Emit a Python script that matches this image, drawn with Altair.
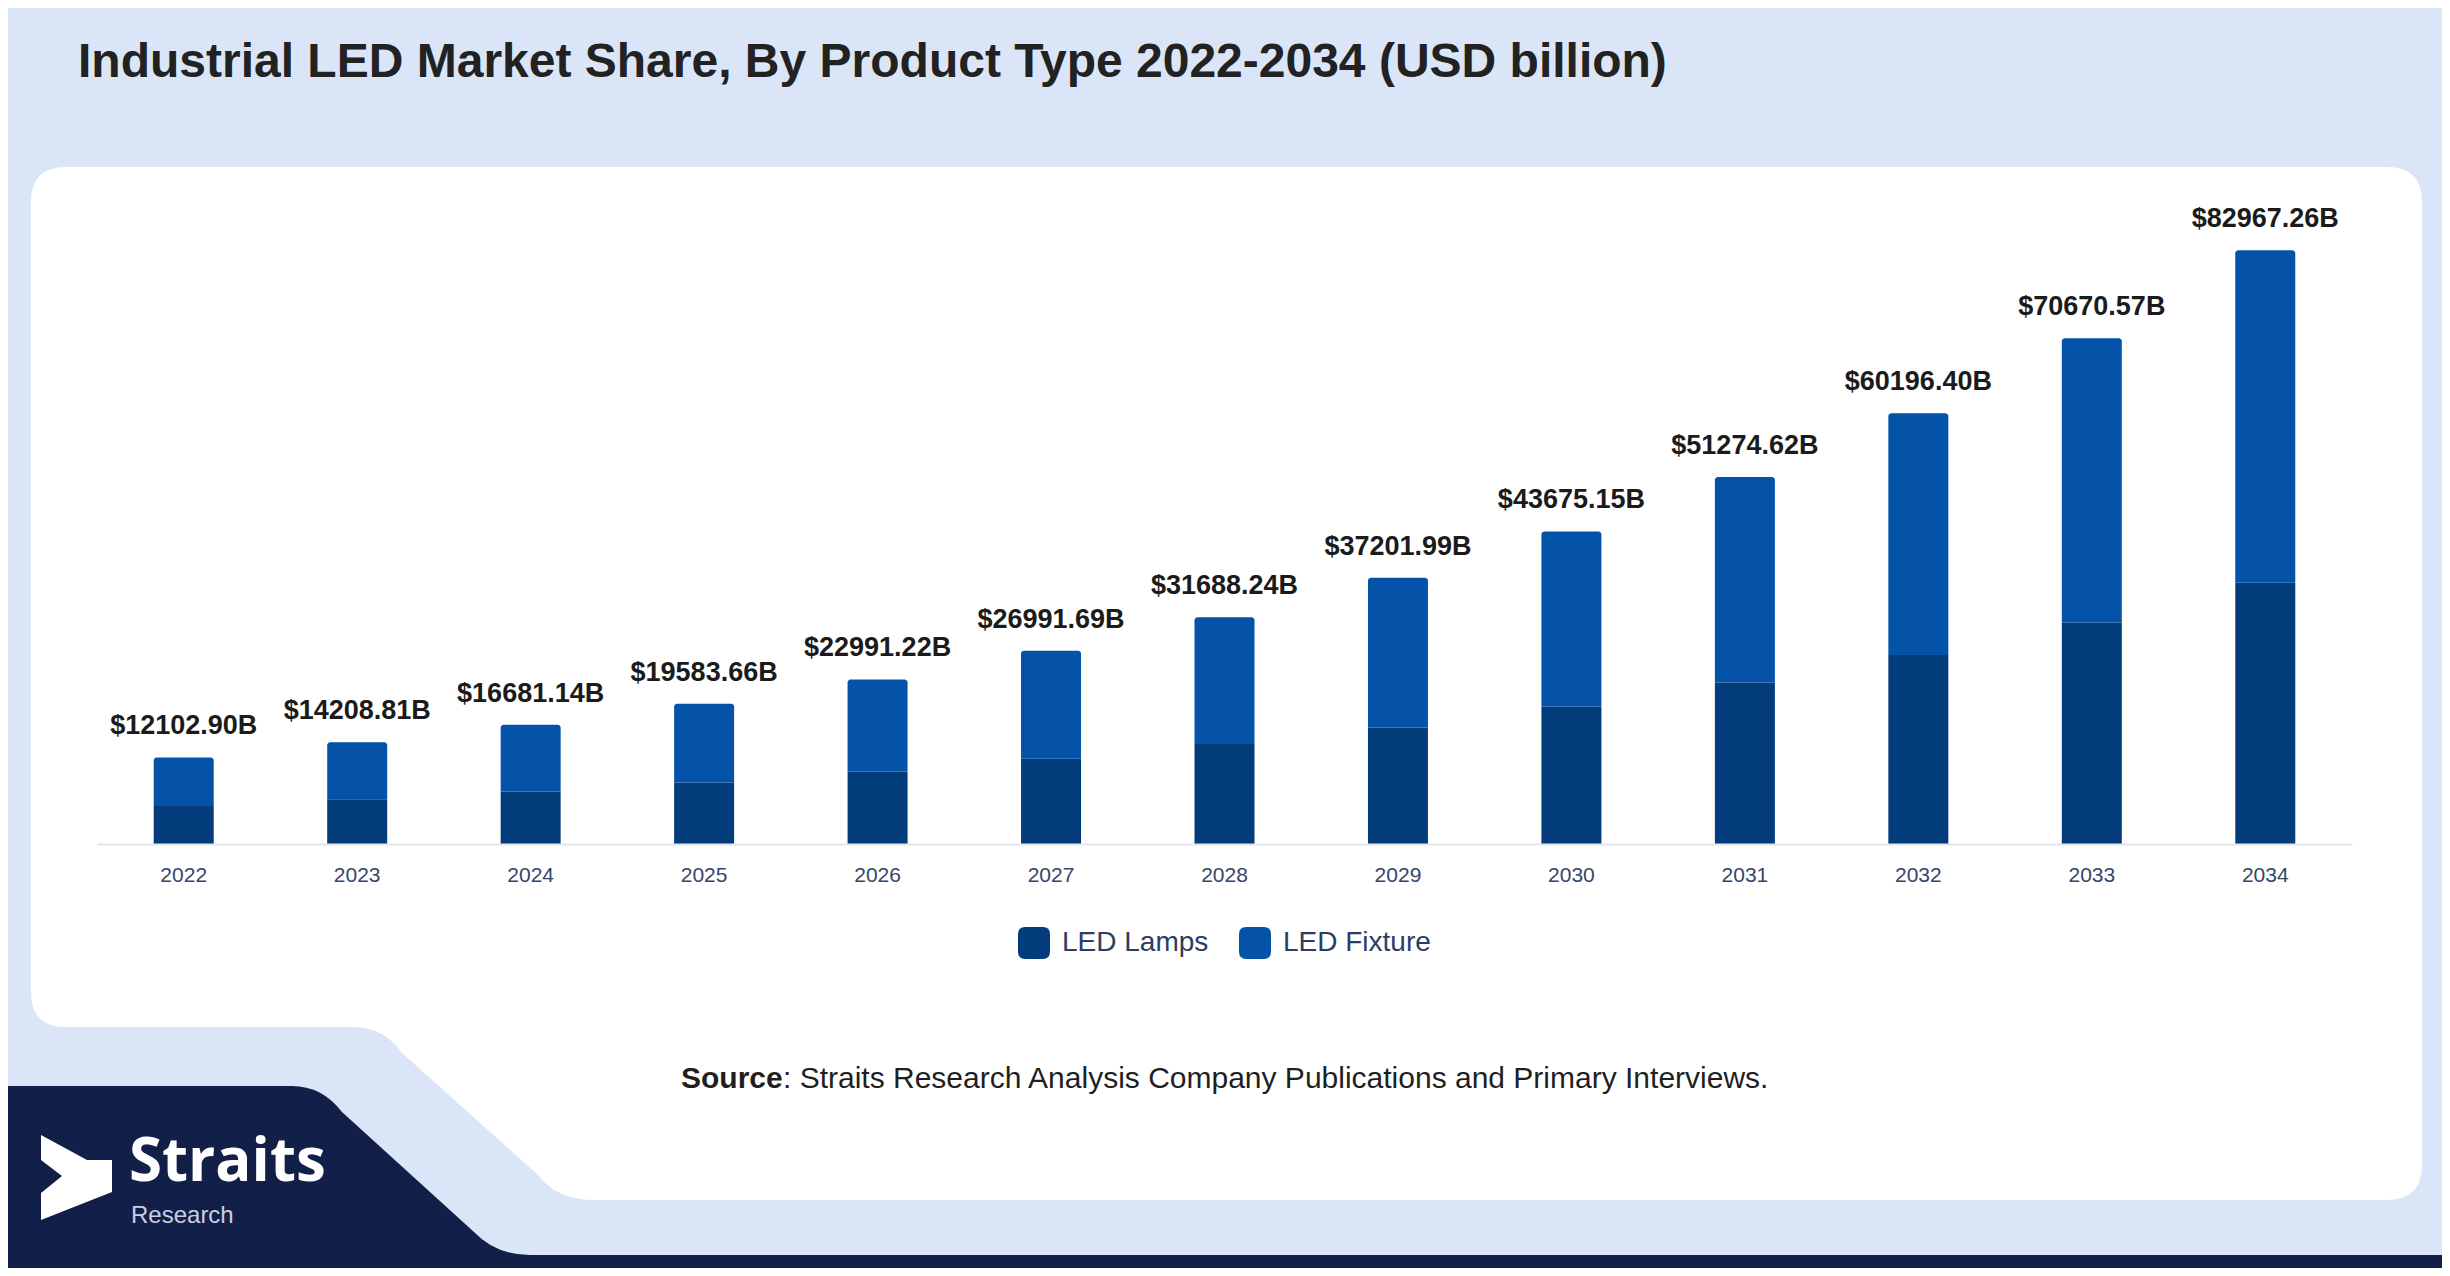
import altair as alt
import pandas as pd

# ---- data ----
years = ["2022", "2023", "2024", "2025", "2026", "2027", "2028",
         "2029", "2030", "2031", "2032", "2033", "2034"]
totals = [12102.90, 14208.81, 16681.14, 19583.66, 22991.22, 26991.69, 31688.24,
          37201.99, 43675.15, 51274.62, 60196.40, 70670.57, 82967.26]
lamps = [5320, 6250, 7330, 8580, 10120, 11930, 13960,
         16280, 19220, 22560, 26430, 30960, 36500]
series = ["LED Lamps", "LED Fixture"]
colors = ["#033c7b", "#0453a8"]

title_text = "Industrial LED Market Share, By Product Type 2022-2034 (USD billion)"
source_bold = "Source"
source_rest = ": Straits Research Analysis Company Publications and Primary Interviews."

# ---- tables ----
df = pd.DataFrame({"year": years, "total": totals, "lamps": lamps})
df["label"] = ["${:.2f}B".format(v) for v in totals]
df["zero"] = 0.0
df["s_lamps"] = series[0]
df["s_fix"] = series[1]

one = pd.DataFrame({"k": [0]})

# plot origin in page pixels (page margin 8 + padding)
OX, OY = 97, 200
PW, PH = 2255, 644


def rel(cmds):
    out = []
    for c in cmds:
        if isinstance(c, str):
            out.append(c)
        else:
            out.append("{:.1f},{:.1f}".format(c[0] - OX, c[1] - OY))
    return " ".join(out)


white_panel = rel(["M", (31, 202), "Q", (31, 167), (66, 167), "L", (2387, 167),
                   "Q", (2422, 167), (2422, 202), "L", (2422, 1165),
                   "Q", (2422, 1200), (2387, 1200), "L", (592, 1200),
                   "Q", (557, 1200), (537, 1174), "L", (402, 1053),
                   "Q", (384, 1027), (352, 1027), "L", (66, 1027),
                   "Q", (31, 1027), (31, 992), "Z"])
navy_shape = rel(["M", (0, 1086), "L", (292, 1086), "Q", (322, 1086), (342, 1112),
                  "L", (474, 1232), "Q", (496, 1255), (530, 1255),
                  "L", (2460, 1255), "L", (2460, 1290), "L", (0, 1290), "Z"])
logo_shape = rel(["M", (41, 1135), "L", (87, 1160), "L", (112, 1160), "L", (112, 1192),
                  "L", (41, 1220), "L", (41, 1193), "L", (62, 1176), "L", (41, 1160), "Z"])

rounded_sq = ("M -1,-0.55 Q -1,-1 -0.55,-1 L 0.55,-1 Q 1,-1 1,-0.55 L 1,0.55 "
              "Q 1,1 0.55,1 L -0.55,1 Q -1,1 -1,0.55 Z")


def shape_layer(path, fill):
    return alt.Chart(one).mark_point(
        shape=path, size=4, filled=True, fill=fill, opacity=1, strokeWidth=0
    ).encode(x=alt.value(0), y=alt.value(0))


def text_layer(txt, px, py, size, color, weight="normal", font="Liberation Sans"):
    return alt.Chart(one).mark_text(
        text=txt, align="left", baseline="alphabetic", fontSize=size,
        fontWeight=weight, font=font, color=color
    ).encode(x=alt.value(px - OX), y=alt.value(py - OY))


color_scale = alt.Scale(domain=series, range=colors)
x_enc = alt.X("year:N", sort=years,
              scale=alt.Scale(paddingInner=0.654, paddingOuter=0.327),
              axis=alt.Axis(title=None, labelAngle=0, labelFontSize=21,
                            labelColor="#34466a", labelFont="Liberation Sans",
                            labelPadding=20, ticks=False, tickSize=0,
                            domainColor="#e3e6ea", domainWidth=2, grid=False,
                            zindex=1))
y_scale = alt.Scale(domain=[0, 90000], nice=False)

legend = alt.Legend(title=None, orient="none", legendX=921, legendY=727,
                    direction="horizontal", symbolType=rounded_sq, symbolSize=1024,
                    symbolStrokeWidth=0, labelFontSize=28, labelColor="#2c3d63",
                    labelFont="Liberation Sans", labelOffset=12, columnPadding=30,
                    padding=0, zindex=1)

base = alt.Chart(df)

lamp_bars = base.mark_bar(size=60).encode(
    x=x_enc,
    y=alt.Y("lamps:Q", scale=y_scale, axis=None),
    y2="zero:Q",
    color=alt.Color("s_lamps:N", scale=color_scale, legend=legend),
)
fix_bars = base.mark_bar(size=60, cornerRadiusTopLeft=3, cornerRadiusTopRight=3).encode(
    x=x_enc,
    y=alt.Y("total:Q", scale=y_scale, axis=None),
    y2="lamps:Q",
    color=alt.Color("s_fix:N", scale=color_scale, legend=legend),
)
labels = base.mark_text(baseline="alphabetic", dy=-23, fontSize=27, fontWeight="bold",
                        font="Liberation Sans", color="#1b1b1b").encode(
    x=x_enc,
    y=alt.Y("total:Q", scale=y_scale, axis=None),
    text="label:N",
)

chart = alt.layer(
    shape_layer(white_panel, "#ffffff"),
    shape_layer(navy_shape, "#121f48"),
    shape_layer(logo_shape, "#ffffff"),
    text_layer("Straits", 129, 1181, 60, "#ffffff", "bold", "Open Sans"),
    text_layer("Research", 131, 1223, 24, "#c9cfe0", "normal", "Liberation Sans"),
    text_layer(title_text, 78, 77, 48, "#222222", "bold"),
    text_layer(source_bold, 681, 1088, 30, "#1f1f1f", "bold"),
    text_layer(source_rest, 783, 1088, 30, "#1f1f1f"),
    lamp_bars,
    fix_bars,
    labels,
).properties(
    width=PW, height=PH,
    autosize=alt.AutoSizeParams(type="none"),
    padding={"left": OX - 8, "top": OY - 8, "right": 2434 - (OX - 8) - PW,
             "bottom": 1260 - (OY - 8) - PH},
    background="#dae6f7",
).configure_view(strokeWidth=0).configure(font="Liberation Sans")

chart.save("out.html", embed_options={"renderer": "svg", "actions": False})
